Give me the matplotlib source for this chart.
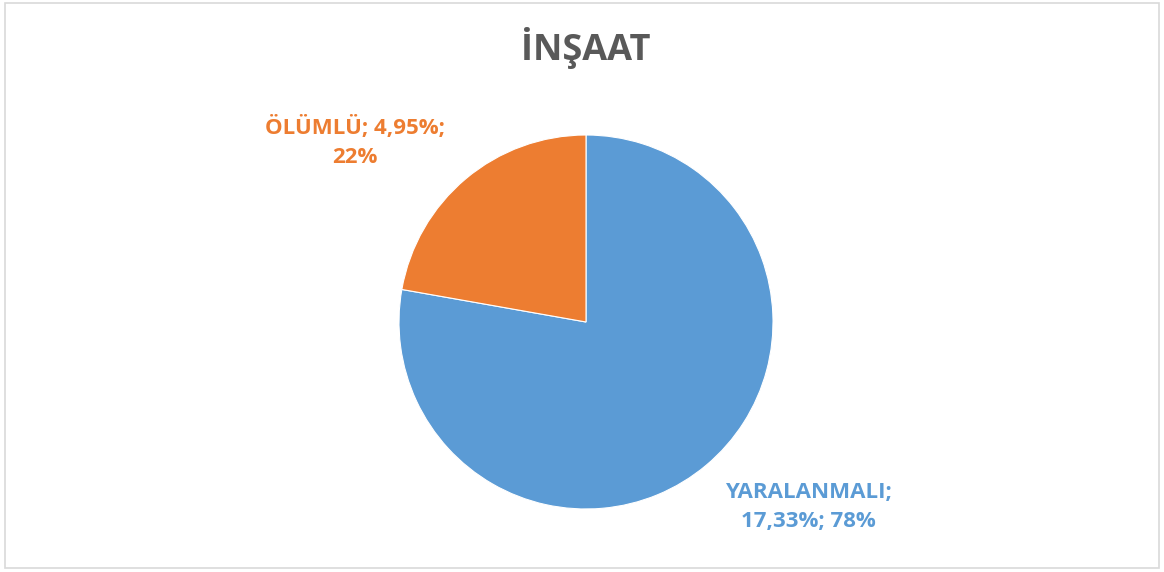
import matplotlib
matplotlib.use("Agg")
import matplotlib.pyplot as plt
from matplotlib.patches import Rectangle

title = "İNŞAAT"
categories = ["YARALANMALI", "ÖLÜMLÜ"]
values = [17.33, 4.95]
value_labels = ["17,33%", "4,95%"]
percent_labels = ["78%", "22%"]
colors = ["#5B9BD5", "#ED7D31"]

W, H = 1164, 572
fig = plt.figure(figsize=(W / 100, H / 100), dpi=100)
ax = fig.add_axes([0, 0, 1, 1])
ax.set_xlim(0, W)
ax.set_ylim(0, H)
ax.set_aspect("equal")
ax.axis("off")

fig.patches.append(Rectangle((5 / W, 4 / H), (W - 10) / W, (H - 7) / H,
                             transform=fig.transFigure, fill=False,
                             edgecolor="#D9D9D9", linewidth=1.2))

cx, cy, r = 586, H - 322, 187
ax.pie(values, colors=colors, startangle=90, counterclock=False,
       center=(cx, cy), radius=r, frame=True,
       wedgeprops=dict(edgecolor="white", linewidth=0.8))
ax.set_xlim(0, W)
ax.set_ylim(0, H)
ax.axis("off")

font = "Open Sans"
ax.text(586, H - 48, title, ha="center", va="center", fontsize=26,
        fontweight="bold", color="#595959", family=font)

ax.text(355, H - 142, f"{categories[1]}; {value_labels[1]};\n{percent_labels[1]}",
        ha="center", va="center", fontsize=16, fontweight="bold",
        color=colors[1], family=font, linespacing=1.45)
ax.text(808, H - 507, f"{categories[0]};\n{value_labels[0]}; {percent_labels[0]}",
        ha="center", va="center", fontsize=16, fontweight="bold",
        color=colors[0], family=font, linespacing=1.45)

fig.savefig("out.png", dpi=100)
